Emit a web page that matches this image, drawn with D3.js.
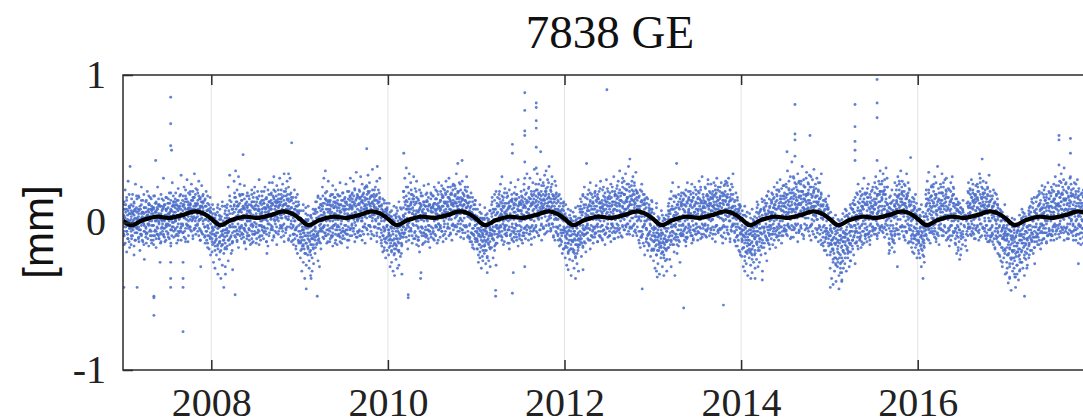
<!DOCTYPE html>
<html>
<head>
<meta charset="utf-8">
<script src="https://cdn.jsdelivr.net/npm/d3@7"></script>
<style>
  html, body { margin: 0; padding: 0; background: #fff; overflow: hidden; }
  svg { display: block; }
</style>
</head>
<body>
<svg id="chart" width="1083" height="420"></svg>
<script>
// ---- chart text and ticks ----
const chartTitle = "7838 GE";
const yLabel = "[mm]";
const xTickYears = [2008, 2010, 2012, 2014, 2016];
const yTickValues = [-1, 0, 1];
const xDomain = [2007, 2018];
const yDomain = [-1, 1];

// ---- residual series, hundredths of a mm ----
// One string per month from Jan 2007; "/" separates observation epochs in the month,
// spaces separate the solutions within an epoch.
const seriesStartYear = 2007;
const monthlyResiduals = [
  // 2007
  "5 -8 12 -3/22 -14 3 9/-6 15 -20 1/8 -2 28 -11/-4 10 -17 6",
  "12 -6 2 -15/7 19 -9 0/-3 14 -22 5/26 -1 8 -12/3 -7 16 -4",
  "9 -11 4 18/-5 1 -19 11/6 -8 24 -2/-13 7 0 15/-25 10 -6 3",
  "14 -3 7 -10/2 21 -7 5/-16 9 -1 12/4 -9 17 -5/11 -14 1 8",
  "6 -12 10 -2/18 -6 3 -9/1 13 -17 7/-4 9 24 -8/12 -1 -11 5",
  "-7 11 3 -14/8 16 -3 1/10 -9 30 -4/5 -13 12 2/-1 17 -6 9",
  "4 -8 13 -2/20 -11 6 1/-5 15 9 -16/11 -3 27 0/7 -10 14 -6",
  "10 -5 2 16/-8 12 -14 4/23 -1 8 -9/3 18 -6 11/-12 6 32 -3",
  "15 -7 5 -1/12 24 -10 3/-4 9 18 -13/6 -2 14 29/1 -9 10 20",
  "8 19 -3 12/-6 26 4 15/2 -11 21 7/17 -4 9 33/11 -8 23 3",
  "13 -2 22 6/-9 18 1 28/10 -5 16 -12/25 3 -7 11/19 -1 8 14",
  "6 -10 15 -3/11 21 -6 2/-14 8 18 -2/4 -9 12 -18/-1 7 -22 10",
  // 2008
  "-8 4 -20 -13/2 -27 -5 9/-16 -3 -31 6/-11 -22 1 -7/12 -18 -35 -4",
  "-14 -3 -25 5/-9 -19 -38 2/-6 -29 11 -15/-21 -2 -12 -44/8 -17 -30 -5",
  "-5 10 -18 3/-12 24 -7 -26/6 -15 32 -2/-9 1 -21 14/-3 -32 9 -13",
  "11 -6 28 2/-10 35 -3 17/4 -13 22 -8/31 7 -17 12/-4 18 -9 26",
  "7 -11 15 -3/19 2 -8 11/-14 9 25 -5/3 -2 13 -18/10 -7 20 1",
  "-4 12 -9 18/1 -15 8 3/14 -6 22 -11/5 17 -2 -13/9 -8 11 24",
  "12 -3 6 -14/21 -7 3 16/-10 8 29 -2/4 -12 14 1/18 -5 -9 9",
  "-6 15 2 -11/10 24 -4 7/-13 3 17 -8/22 -1 11 -16/6 14 -7 27",
  "9 -5 19 2/-12 13 27 -3/6 -9 16 31/-1 11 -6 21/14 -15 4 25",
  "16 3 -8 22/-4 12 30 7/19 -10 5 14/-6 26 11 -2/8 21 -13 33",
  "12 -7 21 4/28 -3 16 9/-11 24 33 2/7 -9 19 30/15 -4 10 -13",
  "5 -12 17 -3/9 22 -8 1/-16 6 14 -5/11 -21 3 19/-2 8 -14 12",
  // 2009
  "-10 3 -24 -6/-18 -33 2 -12/-5 -27 -15 8/-38 -9 -21 -3/-14 1 -29 -45",
  "-7 -22 5 -16/-31 -3 -12 -26/-9 4 -36 -19/-2 -24 -11 -33/6 -15 -28 -8",
  "-12 8 -4 -21/3 -15 14 -9/-26 1 -7 18/-13 10 -30 -2/5 -18 12 -6",
  "9 -6 24 1/-11 30 7 -3/16 -9 35 4/-5 21 12 -14/28 2 -8 15",
  "14 -4 8 -13/3 19 -9 11/-7 25 1 -16/10 -2 17 6/-12 13 -5 22",
  "-3 10 -15 5/18 -8 2 12/-10 7 27 -5/4 -14 15 1/11 -6 20 -9",
  "8 -11 3 16/-5 13 26 -2/12 -8 6 -17/21 2 -12 9/-4 17 30 5",
  "11 -2 19 -9/4 28 -6 14/-13 7 23 0/16 -10 5 34/2 -7 18 12",
  "-6 13 4 22/17 -9 31 6/1 15 -12 26/9 -3 20 -8/24 5 12 -14",
  "10 25 -4 16/-8 21 7 32/13 -2 27 4/-11 18 9 -6/22 3 14 36",
  "6 -9 19 11/-3 24 2 15/28 -7 9 -13/14 4 22 -1/-10 17 7 30",
  "3 -14 11 -5/16 -9 7 -20/1 13 -4 -17/9 -24 5 -11/-2 10 -19 6",
  // 2010
  "-9 2 -22 -5/-16 7 -30 -11/4 -19 -3 -27/-12 -33 1 -8/-21 5 -14 -36",
  "-6 -18 3 -25/-11 8 -31 -4/-20 -1 -14 -29/2 -9 -23 10/-15 -35 -7 0",
  "5 -10 21 -3/14 30 -7 2/-13 9 37 -4/24 -1 11 -18/7 33 -9 16",
  "12 -5 27 3/-9 19 6 -14/31 -2 14 8/-11 23 4 -6/17 -15 28 1",
  "4 -12 16 -3/9 -20 13 22/-7 2 -34 11/18 -4 7 -15/-9 14 1 25",
  "-5 11 -13 6/15 2 -9 20/-2 8 26 -11/12 -6 3 -17/7 19 -3 10",
  "10 -7 4 18/-12 13 1 24/6 -9 16 -3/21 2 -14 9/-5 27 11 -1",
  "-3 14 8 -10/19 -6 25 3/11 -13 6 17/-1 22 -8 13/28 4 -11 7",
  "12 -4 21 6/-9 17 30 2/15 -7 9 24/-2 13 -12 19/8 26 -5 11",
  "7 18 -3 25/13 -8 33 4/20 -1 11 40/-6 16 6 27/2 22 -10 14",
  "16 -5 9 28/-2 19 12 -11/24 6 -7 15/31 -3 10 21/-9 13 4 18",
  "8 -11 14 -2/4 20 -7 11/-15 6 17 -4/12 -9 2 -18/-6 9 -13 15",
  // 2011
  "-6 4 -18 -11/-22 1 -9 -27/3 -15 -5 -24/-12 -31 6 -3/-19 -8 -26 2",
  "-10 -21 3 -16/-4 -28 -13 5/-23 -7 -34 -1/-15 2 -26 -9/-30 -18 -5 8",
  "-8 6 -17 12/-3 -24 9 -11/15 -6 -19 2/-14 21 -2 -29/7 -10 17 -4",
  "11 -4 19 -9/5 26 -2 14/-12 8 31 -6/17 1 -15 10/-3 23 6 -8",
  "6 -9 13 2/-14 18 -5 9/22 -3 11 -18/4 15 -8 27/-1 9 -12 16",
  "-7 12 3 -13/16 -4 24 7/-10 5 19 -2/11 -16 8 29/1 -6 14 -11",
  "13 -5 8 21/-9 17 2 -14/26 5 -7 12/-3 19 10 -11/7 33 -2 15",
  "9 -12 23 4/-4 16 30 -8/12 2 -15 19/27 -6 8 14/-10 21 5 36",
  "18 -3 11 26/-7 22 6 33/14 -9 19 2/29 8 -5 16/3 25 -12 11",
  "10 27 -4 19/32 6 15 -8/21 -2 35 9/13 24 -6 29/4 17 38 -1",
  "14 -6 22 5/26 -1 11 31/-9 18 7 -3/16 28 -12 9/2 20 -7 13",
  "6 -9 15 -3/11 -16 4 19/-5 8 -12 13/-21 2 9 -7/14 -3 -18 5",
  // 2012
  "-4 -17 6 -24/-11 2 -29 -7/-20 -1 -14 -32/5 -25 -9 -3/-18 -36 1 -12",
  "-13 -26 -2 -8/-31 4 -19 -6/-24 -12 -38 1/-9 -21 -4 -28/-15 3 -33 -11",
  "-6 9 -15 3/14 -11 -23 7/-2 19 -8 -17/10 -5 24 -13/1 -20 12 -4",
  "8 -7 16 -2/-12 22 4 11/-5 14 -18 27/3 9 -9 19/13 -3 6 -14",
  "11 -4 20 -10/2 15 -7 25/-13 8 17 -1/21 -9 4 13/-6 28 10 -3",
  "-2 13 -11 7/18 -5 9 24/-8 4 15 -15/12 29 -3 6/-10 17 2 21",
  "5 -9 18 11/-4 26 7 -13/14 -1 21 3/-11 9 31 -6/19 2 -7 14",
  "13 -6 4 23/-2 17 28 -10/8 -4 12 35/20 6 -9 15/-3 24 10 30",
  "7 19 -5 28/14 -2 33 9/-8 22 4 16/26 -6 11 38/1 18 -3 12",
  "16 -4 25 8/-9 19 31 3/12 27 -1 14/-7 22 6 34/20 -3 15 9",
  "9 -12 17 2/22 -6 11 -17/4 14 -9 26/-3 19 7 -14/12 -22 1 16",
  "5 -13 10 -4/-9 16 -19 2/12 -7 -15 8/-2 -23 6 -11/9 -4 -18 14",
  // 2013
  "-7 -19 3 -26/-12 -4 -31 -9/1 -22 -15 -33/-5 -28 -10 4/-17 -2 -35 -13",
  "-11 -24 -1 -16/-30 5 -20 -7/-14 -36 -3 -22/-26 -9 2 -18/-33 -13 -6 -25",
  "-4 11 -17 2/16 -9 -25 8/-13 21 -1 -30/9 -6 27 -15/3 14 -20 -2",
  "7 -10 18 -3/-15 12 3 -21/10 -5 24 -12/-8 16 1 -27/13 -2 20 -9",
  "4 -8 15 -1/-12 19 8 -5/22 -3 11 -16/2 13 -10 27/-6 9 17 -2",
  "11 -5 21 3/-9 14 -14 26/5 -2 17 -11/24 7 -6 12/-1 19 -8 9",
  "-3 16 6 -12/20 -7 28 2/9 -4 13 22/-10 6 31 -1/15 -8 11 3",
  "13 -2 24 7/-6 18 4 -10/29 11 -4 16/3 21 -9 13/-5 8 26 1",
  "8 -11 19 2/14 27 -5 10/-8 22 6 -13/17 -2 12 30/4 -7 24 9",
  "11 21 -4 16/-9 6 27 3/18 -3 13 -14/25 8 -7 19/2 15 -11 28",
  "-5 17 9 27/12 -8 30 4/22 1 -13 15/-3 26 10 -6/19 7 33 -2",
  "4 -12 14 -6/9 20 -3 -16/-9 6 15 -1/12 -19 3 8/-7 11 -22 2",
  // 2014
  "-11 2 -23 -6/-17 -30 5 -9/-3 -26 -14 -33/-20 4 -8 -28/-12 -36 -2 -19",
  "-8 -24 -1 -15/-29 -5 -19 3/-13 -34 -9 -22/1 -27 -16 -4/-31 -10 -21 -38",
  "-14 -3 -25 7/-6 -19 12 -30/-1 -11 -27 4/-22 9 -7 -16/3 -33 -12 14",
  "-4 10 -17 3/13 -9 -21 6/-12 18 -3 -26/8 -7 21 -14/1 -18 11 -5",
  "6 -11 15 -2/-8 19 7 -15/12 -4 24 1/-17 9 -6 14/3 -9 18 27",
  "10 -4 22 -12/1 16 -7 29/-3 11 4 -14/18 -9 8 25/-6 13 -2 20",
  "14 -6 5 26/-2 19 35 -9/9 -3 23 7/-11 16 31 2/22 -5 12 41",
  "8 -10 20 31/-4 13 27 3/17 -7 9 24/-1 33 12 -13/28 5 -6 18",
  "12 -3 26 8/-8 21 38 5/16 -11 10 29/3 24 -5 15/34 -2 19 9",
  "19 -4 27 10/-9 15 32 6/24 -2 13 -12/29 8 18 -6/11 36 1 22",
  "7 -10 17 26/14 -5 30 2/-13 22 8 12/-3 27 -8 16/5 19 -15 33",
  "3 -14 11 -7/15 -2 -19 8/-10 5 16 -4/9 -22 -6 12/-16 2 -9 18",
  // 2015
  "-9 -22 3 -31/-15 -6 -38 -12/-27 1 -19 -42/-4 -33 -14 -24/-11 -40 -2 -29",
  "-18 -30 -7 -25/-36 -3 -21 -45/-12 -28 -9 -34/-24 2 -39 -16/-6 -31 -20 -13",
  "-10 -21 4 -28/-16 -5 -33 8/-24 -12 1 -19/-7 -30 -14 6/-20 -3 -26 10",
  "-3 9 -16 4/15 -10 -22 7/-7 12 -2 -28/20 -13 5 -6/-18 14 2 26",
  "6 -12 13 -3/-9 18 8 -17/11 -1 23 -6/-14 4 16 30/2 -8 19 -11",
  "12 -5 20 -13/3 17 -8 26/-2 9 -15 14/21 4 -9 11/-6 24 7 -3",
  "9 -8 16 2/24 -4 12 31/-11 6 19 -1/14 28 -7 8/-3 21 35 4",
  "15 -3 26 8/-7 19 33 4/22 -10 11 29/1 16 -5 37/12 -2 24 7",
  "10 -14 6 -21/18 -6 -2 13/-17 4 22 -9/8 -12 15 -4/27 -8 11 19",
  "13 -4 22 9/-8 17 31 2/19 -11 7 26/-3 14 35 6/21 -6 12 28",
  "8 -9 18 4/25 -3 13 -12/16 33 -7 10/2 20 -14 27/11 -5 22 6",
  "4 -13 12 -5/17 -8 2 -20/9 -3 14 -11/-17 6 -9 19/1 -24 8 -6",
  // 2016
  "-7 3 -19 -12/5 -24 -4 9/-15 -30 1 -9/-22 7 -13 -3/-27 -6 4 -17",
  "6 -8 19 -3/13 28 -11 4/-5 22 9 34/17 -2 -14 11/25 3 -7 15",
  "11 -6 24 2/-10 16 31 -4/8 19 -13 27/3 -7 14 38/20 -2 9 -15",
  "-4 13 26 7/15 -9 20 33/2 11 -6 24/29 -3 16 5/-12 21 8 30",
  "9 -11 17 3/22 -5 12 -16/6 27 -2 14/-9 18 4 31/13 -7 23 1",
  "-6 10 -14 4/16 -9 -21 8/-3 12 -17 1/7 -25 -5 13/-11 3 -18 6",
  "4 -8 -15 9/-2/-12 5/13 -6 -19 2/20 -3 10 27",
  "12 -4 23 6/-9 17 29 1/15 -7 9 22/-2 13 -11 19/8 25 -5 14",
  "17 -3 10 26/-7 21 4 -12/13 30 -1 8/24 -9 16 5/-4 19 11 28",
  "10 -6 20 3/-11 14 27 -2/18 6 -9 23/1 -13 12 32/15 -4 8 -10",
  "5 -9 16 -3/11 -15 7 22/-6 2 -18 13/8 -11 19 -1/-21 4 -7 10",
  "-3 -14 6 -22/8 -9 -26 1/-17 -5 -30 4/-11 -2 -24 -8/3 -19 -35 -6",
  // 2017
  "-12 -27 -4 -34/-8 -22 -41 -15/-30 -1 -18 -38/-25 -11 -46 -6/-20 -33 -9 -28",
  "-16 -31 -5 -24/-37 -10 -21 -44/-7 -29 -14 -35/-23 -3 -39 -18/-12 -27 -8 -32",
  "-9 -20 2 -27/-14 -4 -31 7/-22 -11 -36 -1/-6 -25 -15 4/-18 -29 -3 -12",
  "-5 8 -16 -24/11 -9 -2 -19/4 -13 16 -7/-21 1 -10 13/-3 -17 7 -28",
  "6 -10 14 -3/-8 18 -15 3/12 -5 21 -12/-1 9 -18 15/4 -7 25 -2",
  "10 -4 19 -11/2 15 -7 24/-14 8 -1 17/13 -9 27 3/-5 11 20 -8",
  "7 -12 18 1/-5 22 10 -9/15 -2 26 5/-8 13 31 -3/19 4 -11 12",
  "12 -4 21 6/-10 17 28 -1/9 -7 14 33/3 19 -5 24/-12 8 16 37",
  "15 -6 9 26/-3 20 12 -11/24 4 -8 17/30 -1 13 7/-7 22 2 18",
  "9 -9 19 -2/14 27 -5 6/-12 11 21 1/17 -4 8 29/-8 13 23 -1",
  "6 -11 15 -3/20 -7 11 2/-14 9 -4 18/25 -8 5 13/-2 16 -10 9",
  "3 -12 10 -5/14 -8 -17 6/-3 9 -13 1/-20 5 -9 12/-6 -15 2 8"
];

// Second solution set for the same months (same encoding), mostly close to zero.
const monthlyResidualsB = [
  // 2007
  "3 -6 9 -1/7 -3 12 0/-8 5 2 -11/10 -4 6 1",
  "-2 8 -9 4/11 -5 1 6/-7 3 -12 9/2 -1 7 -4",
  "6 -3 -10 2/-5 9 1 -8/4 -12 7 0/10 -6 3 -2",
  "-4 10 2 -7/8 -1 5 -11/3 12 -6 1/-9 6 -2 9",
  "9 -2 4 -9/1 7 -5 13/-3 10 -8 2/6 -11 11 0",
  "2 -8 11 5/-6 3 9 -1/12 -4 1 -10/5 8 -3 4",
  "-1 6 -7 10/4 13 -2 7/-9 2 8 -5/11 0 5 14",
  "7 1 12 -4/-3 9 5 15/2 -7 10 3/13 -1 6 -6",
  "5 11 -2 8/14 3 -6 10/-1 7 16 2/9 -4 12 4",
  "10 2 13 -3/6 15 1 9/-5 11 4 17/3 8 -2 12",
  "4 12 -1 7/16 -4 9 2/11 5 14 -6/1 10 6 13",
  "-3 6 -9 2/8 -6 4 -12/1 9 -4 5/-10 3 -7 7",
  // 2008
  "-6 1 -11 -3/3 -8 -14 2/-9 -2 5 -12/-4 -15 0 -7",
  "-10 -3 2 -13/-6 -16 -1 4/-12 -5 -9 1/-2 -14 -7 3",
  "-4 5 -9 1/-12 3 -6 8/2 -10 -3 11/-7 6 -1 -13",
  "7 -3 12 1/-6 9 4 14/-1 11 -8 5/13 2 -4 8",
  "2 -7 9 -2/10 -4 5 -10/-1 12 3 -6/8 -9 1 11",
  "-5 8 1 -9/12 -2 6 3/-8 10 -3 14/4 -6 9 0",
  "9 -1 4 -7/3 11 -5 8/-2 13 6 -9/1 7 15 -3",
  "4 10 -3 13/-6 2 9 16/7 -4 12 1/14 5 -1 10",
  "11 3 15 -2/6 12 -5 18/1 9 4 14/-3 13 8 2",
  "7 14 1 10/-2 16 5 12/9 -4 17 3/12 6 15 -1",
  "3 13 8 -4/15 2 11 19/6 -3 14 9/10 17 1 5",
  "-2 7 -8 3/9 -5 1 -11/5 -9 8 -3/-6 2 -13 6",
  // 2009
  "-8 -1 -13 3/-5 -16 -3 -10/1 -12 -7 -18/-4 2 -14 -9",
  "-11 -4 -17 1/-7 -13 -2 -20/-15 -6 3 -11/-9 -18 -1 -5",
  "-3 6 -10 0/-8 3 -14 7/4 -6 10 -11/-1 8 -5 2",
  "5 -4 11 2/-7 13 6 -2/9 1 -9 15/3 12 -5 7",
  "1 9 -6 12/-3 7 4 -10/10 -2 14 3/-8 6 11 -1",
  "8 -5 2 13/-9 10 5 -3/12 -1 7 -7/3 15 -4 9",
  "-2 11 6 -6/14 2 -8 9/5 16 -3 1/10 -5 12 4",
  "6 14 -1 9/-4 12 18 2/11 -2 7 15/1 9 4 -6",
  "12 3 -5 17/8 14 1 10/-3 19 6 13/15 -1 9 4",
  "9 16 3 12/-2 14 20 6/11 4 17 -3/7 13 1 18",
  "5 12 -3 15/10 1 18 7/-4 9 13 3/16 6 -1 11",
  "1 -7 6 -12/-3 8 -9 4/7 -13 2 -5/-10 5 -2 9",
  // 2010
  "-5 2 -12 -7/-14 -3 4 -9/-1 -16 -6 2/-11 -4 -18 1",
  "-9 -2 -15 4/-6 -13 1 -19/3 -8 -11 -3/-16 -5 2 -10",
  "4 -3 10 -7/12 1 6 -5/-2 14 3 9/7 -6 11 0",
  "9 2 -4 13/-1 10 6 16/5 -7 12 3/14 -2 8 1",
  "-4 7 1 -10/10 -6 5 13/2 -9 8 -3/12 4 -7 6",
  "6 -3 11 -8/1 9 -5 14/-6 4 12 -2/8 -10 3 10",
  "3 11 -4 7/-8 13 2 9/12 -3 6 16/-1 10 5 -5",
  "10 -2 15 4/6 17 -6 11/1 8 14 -3/13 3 9 19",
  "7 14 -1 11/16 4 9 -4/12 20 2 8/-2 15 6 13",
  "13 3 18 8/-3 11 16 5/9 21 1 14/6 -1 12 17",
  "8 15 1 -5/12 6 18 3/-2 10 14 7/17 4 -6 11",
  "-1 6 -10 3/7 -7 2 -13/4 -4 9 -8/-11 5 -2 1",
  // 2011
  "-7 -1 -12 4/-4 -15 -8 1/-10 3 -6 -17/-2 -13 -5 -9",
  "-12 -5 2 -16/-8 -19 -3 -6/1 -11 -14 -2/-17 -7 -4 -13",
  "-5 4 -9 -1/7 -12 2 -6/-3 9 -15 5/-8 1 11 -4",
  "4 -6 12 1/-3 9 6 -9/11 -1 15 3/-5 7 -2 13",
  "-2 8 3 -7/10 -5 13 1/-9 6 2 11/4 -3 14 -6",
  "7 -4 10 2/-8 12 -1 15/3 9 -6 5/13 -2 8 -9",
  "1 12 -3 8/14 -7 5 10/-4 11 2 16/7 -5 13 3",
  "9 -3 14 5/2 16 -6 11/12 4 -2 18/6 13 1 -4",
  "14 5 -2 11/8 17 3 12/-5 10 19 6/13 -1 9 15",
  "6 15 10 -3/18 4 13 21/1 11 16 7/-2 14 9 19",
  "10 3 16 -4/13 8 -1 19/5 14 2 11/17 -3 9 6",
  "2 -8 9 -4/-11 5 -2 7/3 -9 6 -13/8 -5 1 -7",
  // 2012
  "-6 -14 1 -9/-3 -17 -8 3/-12 -5 -19 -1/-9 2 -15 -6",
  "-13 -4 -18 1/-8 -21 -6 -11/2 -15 -9 -3/-17 -7 -12 0",
  "-2 7 -11 3/-7 5 -14 9/1 -5 12 -9/6 -3 -8 4",
  "5 -7 10 -1/12 3 -4 8/-9 11 6 -2/14 -5 2 9",
  "-3 9 4 -8/7 14 -2 11/2 -6 16 5/-10 8 1 13",
  "10 -2 6 15/-5 12 1 8/14 -7 9 3/-1 16 11 -4",
  "4 13 -6 9/11 2 17 -1/-3 8 14 6/12 -4 19 2",
  "8 -1 16 11/3 20 -5 13/15 7 1 18/-2 11 6 14",
  "13 6 19 2/-3 15 9 22/10 -1 17 5/14 8 -4 12",
  "7 18 3 12/15 -2 21 8/4 13 -5 16/11 20 1 9",
  "3 11 -6 9/14 1 -10 6/-3 12 7 -8/9 -1 15 4",
  "-4 5 -11 1/6 -8 3 -14/-1 9 -6 2/-12 4 -9 7",
  // 2013
  "-5 -13 2 -9/-16 -4 -10 1/-7 -19 -2 -12/-3 -14 -8 3",
  "-9 -2 -17 -5/-13 1 -20 -8/-4 -15 -11 2/-18 -6 -1 -12",
  "-1 8 -12 4/6 -7 -15 2/-9 11 -3 -6/5 -11 9 -2",
  "3 -8 10 -1/-5 12 6 -10/9 -2 -13 4/11 3 -7 14",
  "-2 9 5 -9/12 -4 7 1/-7 14 3 -11/8 -1 16 6",
  "6 -3 12 -7/1 10 -9 15/7 -5 3 11/-1 13 5 -4",
  "9 4 -6 13/-3 11 16 2/8 -8 14 5/17 -2 10 7",
  "5 14 -1 10/12 3 19 -5/2 9 15 11/-4 17 6 13",
  "11 2 16 -3/7 18 5 12/-2 14 9 20/4 11 -5 15",
  "8 17 3 13/-4 10 20 6/15 1 12 -2/9 18 5 14",
  "12 4 -3 17/6 14 1 10/-5 19 8 15/3 11 -1 7",
  "-1 8 -7 3/5 -10 2 -5/9 -3 -12 4/-8 1 6 -4",
  // 2014
  "-8 -2 -13 3/-5 -17 -9 1/-12 -4 -20 -7/0 -14 -6 -10",
  "-12 -5 -18 -1/-7 -21 -3 -14/-9 2 -16 -6/-19 -11 -2 -8",
  "-6 3 -13 -2/-9 6 -17 1/-4 -11 8 -7/2 -14 -3 5",
  "2 -7 9 -3/-10 5 -1 11/6 -5 -12 3/10 -2 7 -8",
  "7 -4 13 2/-6 10 -1 16/3 12 -8 6/-3 9 15 -5",
  "-1 11 4 -9/14 -3 9 18/5 -6 13 1/11 -4 7 16",
  "10 3 -5 17/6 15 -1 12/-4 11 20 4/14 7 -2 9",
  "4 16 9 -3/12 -1 19 7/15 3 10 22/-5 13 6 17",
  "13 7 -2 18/10 21 4 14/-1 16 9 24/6 12 -4 19",
  "9 20 3 15/-3 13 24 7/17 2 11 -1/14 21 5 10",
  "5 14 -4 11/18 2 -7 13/9 -2 16 6/-5 12 3 20",
  "-3 7 -10 2/9 -6 4 -13/1 -8 11 -4/-11 3 6 -7",
  // 2015
  "-9 -2 -15 -5/-18 -7 1 -12/-4 -21 -10 -1/-14 -6 -24 -3",
  "-13 -5 -20 -2/-9 -24 -14 1/-17 -4 -11 -27/-7 -19 -1 -10",
  "-7 -15 0 -10/-3 -18 5 -8/-12 -1 -20 3/-6 -14 -2 -9",
  "3 -6 9 -12/-2 7 -9 12/5 -14 1 -4/10 -7 4 -1",
  "-4 8 -10 3/11 -2 6 -13/1 14 -6 9/-9 4 12 -1",
  "8 -3 14 5/-7 10 2 -10/13 -1 7 17/2 -5 11 6",
  "4 12 -4 9/16 1 -8 13/7 19 -2 10/-5 14 3 21",
  "11 -2 17 6/3 21 9 -4/14 5 -1 19/8 24 2 12",
  "-4 7 -11 3/9 -8 13 1/-13 5 -2 8/-6 11 -9 4",
  "9 -1 15 4/-5 12 18 7/2 16 -3 11/19 6 -2 14",
  "6 13 -3 9/16 1 11 -6/4 18 7 -1/12 -4 15 3",
  "-2 5 -9 1/8 -6 -14 3/-4 10 -11 6/-8 2 -1 -12",
  // 2016
  "-6 -13 2 -8/-3 -16 -10 4/-11 -1 -7 -19/-4 -14 1 -9",
  "4 -5 11 -1/8 16 -3 2/-7 13 6 -2/10 -4 18 5",
  "7 -2 14 3/-6 11 19 -1/5 -8 12 8/16 1 -4 10",
  "-1 9 15 4/12 -5 7 20/3 13 -2 9/17 5 -7 11",
  "5 -6 10 2/14 -3 8 -9/1 16 4 -2/11 -7 19 6",
  "-4 6 -11 2/9 -7 -2 12/-5 4 -13 7/3 -9 -1 10",
  "2 -6 8/-3 5/-8 1/6 -4 11 -1",
  "7 -3 13 4/-6 10 17 -1/11 2 -8 15/4 19 -4 8",
  "10 -2 6 16/-5 13 2 9/17 -1 11 5/-4 14 8 20",
  "6 -4 12 1/-7 9 16 -2/11 3 -5 14/1 -9 8 18",
  "3 -7 10 -2/6 -11 4 13/-4 1 -9 8/12 -6 2 -13",
  "-2 -9 4 -14/5 -6 -17 1/-10 -3 -19 2/-7 1 -12 -4",
  // 2017
  "-8 -17 -2 -11/-5 -21 -13 -1/-15 -6 -24 -9/-3 -19 -10 -14",
  "-11 -3 -19 -7/-16 -1 -23 -9/-5 -14 -20 -2/-12 -18 -6 -25",
  "-5 -12 3 -8/-10 -2 -17 4/-14 -6 1 -20/-3 -11 -7 2",
  "-2 6 -10 -14/7 -5 3 -11/1 -8 10 -3/-13 4 -6 8",
  "4 -7 9 -1/-5 11 -10 2/8 -3 13 -7/-1 6 -12 10",
  "6 -2 12 -7/1 10 -4 15/-9 5 1 11/8 -6 16 3",
  "5 -8 11 2/-3 14 7 -6/10 -1 16 4/-5 9 19 -2",
  "8 -2 13 4/-6 11 17 1/6 -4 9 20/2 12 -3 15",
  "9 -4 6 16/-1 13 8 -7/15 3 -5 11/18 1 9 5",
  "6 -6 12 -1/9 17 -3 4/-8 7 13 2/11 -2 5 18",
  "4 -7 10 -2/13 -4 7 1/-9 6 -3 12/16 -5 3 8",
  "2 -8 7 -3/9 -5 -11 4/-2 6 -9 1/-13 3 -6 8"
];

// Third solution set for the same months (same encoding), wider spread.
const monthlyResidualsC = [
  // 2007
  "14 -9 4 -15/-2 17 9 -6/11 -13 1 19",
  "-11 6 16 -4/8 -16 13 2/-7 18 -3 10",
  "17 -5 -13 8/3 12 -9 15/-15 6 19 -1",
  "-8 15 4 -14/13 -2 18 7/-12 9 -6 16",
  "10 -15 18 3/-6 14 -11 8/16 1 -9 12",
  "-13 19 6 -4/11 -8 15 2/-2 17 -12 9",
  "16 2 -10 13/-5 20 8 -14/12 -3 18 5",
  "-9 14 20 1/15 -6 11 -12/4 19 -4 9",
  "18 -7 12 4/-11 16 22 6/9 -2 14 -13",
  "12 21 -5 8/17 3 -9 15/-4 13 19 1",
  "-6 15 9 20/2 -12 17 11/14 6 -8 18",
  "11 -14 5 16/-9 13 -3 -17/8 -11 17 2",
  // 2008
  "-15 6 -4 12/-19 -9 3 -13/7 -16 -1 10",
  "4 -13 -20 9/-8 14 -15 -2/-18 6 -10 11",
  "12 -16 5 -7/-11 15 -3 18/9 -14 1 -19",
  "-9 17 3 20/14 -5 11 -12/-3 19 8 -6",
  "15 -8 19 2/-13 10 16 -4/6 -11 14 18",
  "-12 16 7 -5/19 -1 -14 11/3 14 -8 20",
  "17 4 -11 14/-6 18 9 -15/12 -2 21 6",
  "-7 13 21 -3/10 -13 16 5/19 -9 8 14",
  "20 -4 13 9/-10 17 2 22/11 15 -7 18",
  "14 19 -6 11/22 3 -3 16/-9 18 12 6",
  "9 -5 18 23/16 -12 11 4/20 7 -1 15",
  "13 -15 6 -8/-4 11 17 -18/2 -12 14 7",
  // 2009
  "-14 8 -19 3/-7 12 -16 -5/10 -21 -2 6",
  "-18 2 -9 11/5 -15 -22 -3/-11 9 -17 1",
  "9 -17 14 -6/-12 17 3 -9/16 -4 -14 12",
  "-10 18 -3 13/16 -7 20 4/-2 14 9 -13",
  "18 -11 6 15/-4 19 -9 12/14 2 -14 17",
  "-9 15 19 -2/12 -13 8 18/-6 20 4 -11",
  "14 -7 17 9/-12 21 3 -5/18 11 -9 15",
  "-4 20 10 16/22 -8 13 5/-10 17 19 2",
  "16 8 -9 21/3 18 -6 14/23 -3 11 17",
  "19 -5 24 7/12 21 -2 16/5 -8 18 13",
  "-3 17 10 22/15 -9 19 6/11 20 -4 14",
  "12 -16 4 9/-11 15 -6 -19/8 -3 13 -14",
  // 2010
  "-17 5 -8 13/-12 -20 8 -4/11 -15 -1 -22",
  "6 -16 10 -11/-19 4 -7 14/-14 9 -21 -2",
  "-8 17 21 4/15 -10 18 24/-3 20 9 -12",
  "19 -6 14 22/-11 16 3 18/13 -9 21 6",
  "-12 15 8 -16/18 -3 12 20/-7 14 -14 9",
  "14 -10 19 3/-5 17 -13 11/20 4 -8 16",
  "-6 18 12 -11/16 22 -2 8/13 -12 19 5",
  "21 -4 15 9/-9 18 23 3/14 7 -6 20",
  "11 24 -3 17/19 5 -8 14/22 -1 12 25",
  "-2 19 14 23/17 -6 21 9/12 26 3 -4",
  "20 -7 16 11/-3 22 8 15/18 -10 13 24",
  "10 -13 7 17/-8 14 -17 5/15 -2 -11 12",
  // 2011
  "-13 9 -18 -4/7 -20 -9 12/-16 3 -7 -23",
  "-19 -6 10 -15/3 -12 -24 6/-9 -17 8 -3",
  "14 -11 -5 17/-16 9 19 -8/6 -14 13 -2",
  "-7 16 21 -3/13 -10 18 5/20 -4 11 -13",
  "17 -9 5 20/-14 14 10 -5/19 3 -11 15",
  "-10 20 13 -6/16 -2 -12 19/8 17 -8 12",
  "18 6 -12 15/-4 22 11 -9/14 -7 20 3",
  "-8 17 24 6/21 -3 13 -11/16 9 -5 19",
  "22 -6 15 10/-9 20 26 4/13 18 -2 21",
  "16 25 -4 12/23 8 19 -7/11 27 2 17",
  "-5 21 14 24/18 -10 16 7/25 3 -6 19",
  "14 -12 8 18/-7 16 -15 3/11 -5 -18 13",
  // 2012
  "-16 4 -10 12/-21 -6 9 -14/3 -18 -3 8",
  "7 -20 -12 -2/-15 10 -23 4/-8 -16 11 -19",
  "11 -13 16 -9/-4 18 -16 7/17 -8 3 -14",
  "-11 19 8 -4/15 -12 20 2/-6 17 13 -10",
  "18 -7 21 5/-13 16 -3 19/10 -9 14 23",
  "-6 22 11 -12/17 4 -8 20/14 -4 23 7",
  "20 -9 16 3/-2 24 12 -7/18 -11 21 9",
  "-4 18 25 8/22 -7 15 11/-10 20 27 3",
  "23 9 -5 19/14 26 -1 17/8 21 -8 24",
  "15 -3 22 28/-6 19 10 25/21 4 -9 17",
  "9 -14 18 4/-10 15 21 -6/13 -2 19 -16",
  "-11 13 -5 17/6 -16 10 -8/15 -19 3 9",
  // 2013
  "-18 6 -13 -3/10 -22 -7 13/-15 2 -19 -9",
  "-7 -21 8 -14/-17 3 -11 -24/5 -13 -4 -19",
  "13 -10 -17 6/-3 16 -12 9/18 -15 4 -7",
  "-12 17 5 -8/14 -16 19 1/-5 12 -9 18",
  "16 -6 12 20/-10 18 3 -13/7 21 -4 15",
  "-9 19 6 15/20 -5 -12 17/4 14 -8 22",
  "17 8 -7 21/-11 15 24 2/19 -4 13 10",
  "-5 23 14 -9/18 6 26 -2/12 -7 20 16",
  "21 -8 17 11/-3 25 9 19/15 -6 22 4",
  "13 24 -5 18/20 2 -10 15/26 8 -3 21",
  "-7 19 12 25/17 -11 22 5/10 24 -2 16",
  "15 -13 4 11/-9 17 -16 7/12 -4 -20 10",
  // 2014
  "-12 8 -18 -5/5 -23 -10 11/-16 -2 -21 7",
  "-20 -8 6 -15/-3 -18 -25 9/-11 -22 -6 4",
  "10 -15 -9 14/-19 7 -4 -13/16 -8 -17 3",
  "-6 15 -14 8/18 -11 3 13/-9 16 -3 -15",
  "14 -8 20 5/-12 17 10 -4/19 2 -10 22",
  "-7 21 13 -2/16 -9 23 8/11 -5 18 25",
  "19 7 -8 24/-3 22 14 28/17 -10 20 9",
  "23 -5 18 30/10 26 -2 15/21 12 -7 27",
  "16 28 -4 21/25 8 19 -9/14 30 3 18",
  "22 -6 26 13/-2 19 31 10/24 5 -8 20",
  "-10 18 23 4/21 -4 14 27/8 -12 17 11",
  "12 -16 7 15/-6 14 -11 -19/9 4 -14 10",
  // 2015
  "-20 -4 -14 7/-25 -11 3 -18/-8 -28 -15 5",
  "-16 -27 2 -12/-22 -9 -31 -5/6 -19 -26 -13",
  "-13 -24 9 -8/-17 4 -21 -11/12 -15 -6 -26",
  "13 -12 -18 9/-6 17 -14 4/19 -10 8 -16",
  "-11 16 21 -7/14 -15 10 19/-4 20 -9 13",
  "17 -8 23 12/-12 19 5 -6/22 -3 15 10",
  "-5 20 27 14/18 -9 23 6/26 11 -4 19",
  "21 -6 16 28/9 24 -3 19/13 30 6 -8",
  "-15 10 -19 17/6 -11 14 -6/-20 12 3 -14",
  "18 25 -5 14/22 -8 28 10/-3 20 16 24",
  "12 -10 21 26/-6 17 8 19/23 -2 14 -13",
  "-11 14 -17 8/16 -9 -21 11/5 -15 13 -4",
  // 2016
  "-14 9 -21 2/-9 -18 12 -6/-23 4 -12 -16",
  "16 22 -9 12/-4 20 15 -12/24 8 -6 18",
  "-8 21 13 26/17 -11 19 6/23 2 -9 15",
  "20 -5 24 11/-9 18 27 4/14 22 -7 19",
  "-10 17 23 -4/15 21 -12 9/19 -6 13 24",
  "12 -15 -4 16/-19 8 14 -10/-7 -22 10 3",
  "-10 7 15/-16/14 -9 21 -4",
  "19 -8 22 10/-4 20 14 26/16 -11 18 3",
  "-6 21 15 24/19 -10 27 8/12 23 -3 17",
  "17 -9 22 8/-13 19 11 24/21 -5 14 -12",
  "-13 11 18 -8/14 -17 6 20/-10 12 -4 16",
  "9 -15 -23 5/-11 -4 -27 7/-18 -9 12 -21",
  // 2017
  "-22 -9 -31 4/-17 -28 -5 -37/-12 -24 3 -19",
  "-26 -13 -35 2/-20 -6 -29 -16/-33 -9 -22 5",
  "-14 -27 9 -19/-24 -8 -16 6/-11 -31 -3 -21",
  "10 -15 -22 5/-12 14 -19 -7/17 -10 4 -17",
  "-13 17 6 -9/19 -15 12 -4/-6 20 9 -14",
  "17 -11 22 7/-7 19 13 -13/21 -4 16 10",
  "-9 20 14 24/16 -12 21 7/11 25 -6 18",
  "20 -8 25 11/14 27 -3 19/-7 22 16 29",
  "-4 21 16 27/23 -11 18 9/14 26 -6 20",
  "18 -12 23 8/-5 19 26 -9/21 4 -14 16",
  "13 -15 19 7/-10 17 -4 22/9 -13 15 -6",
  "-9 14 -16 5/12 -18 8 -6/-14 11 -21 3"
];

// Isolated large residuals: [decimal year, mm]
const outliers = [
  [2007.01, -0.44], [2007.08, 0.38], [2007.16, -0.44], [2007.35, -0.50], [2007.35, -0.51],
  [2007.35, -0.63], [2007.37, 0.42], [2007.42, -0.27], [2007.54, 0.85], [2007.54, 0.67],
  [2007.54, 0.52], [2007.55, 0.49], [2007.54, -0.27], [2007.54, -0.38], [2007.54, -0.44],
  [2007.68, -0.27], [2007.68, -0.38], [2007.68, -0.44], [2007.68, -0.74], [2007.88, -0.30],
  [2008.16, -0.35], [2008.27, -0.49], [2008.36, 0.46], [2008.63, -0.21], [2008.91, 0.54],
  [2009.13, -0.38], [2009.20, -0.50], [2009.76, 0.50], [2009.88, 0.38],
  [2010.18, 0.47], [2010.23, -0.49], [2010.23, -0.51], [2010.37, -0.38], [2010.84, 0.42],
  [2011.22, -0.46], [2011.22, -0.50], [2011.41, -0.48], [2011.41, 0.53], [2011.41, 0.47],
  [2011.42, -0.34], [2011.55, 0.88], [2011.55, 0.76], [2011.55, 0.62], [2011.55, 0.59],
  [2011.55, 0.41], [2011.55, 0.30], [2011.55, -0.30], [2011.68, 0.81], [2011.68, 0.78],
  [2011.68, 0.69], [2011.68, 0.64], [2011.68, 0.51], [2011.68, 0.37], [2011.73, 0.48],
  [2012.21, -0.32], [2012.25, 0.40], [2012.48, 0.90], [2012.74, 0.43], [2012.88, -0.45],
  [2013.05, -0.37], [2013.27, 0.40], [2013.25, -0.36], [2013.35, -0.58], [2013.80, -0.56],
  [2014.11, -0.38], [2014.24, -0.39], [2014.52, 0.48], [2014.61, 0.80], [2014.61, 0.60],
  [2014.61, 0.56], [2014.61, 0.45], [2014.78, 0.59], [2015.01, -0.44], [2015.14, -0.34],
  [2015.14, -0.40], [2015.29, 0.80], [2015.29, 0.65], [2015.29, 0.55], [2015.29, 0.49],
  [2015.29, 0.42], [2015.54, 0.97], [2015.54, 0.81], [2015.54, 0.71], [2015.54, 0.42],
  [2015.77, -0.30], [2015.92, 0.44], [2016.06, -0.38], [2016.73, 0.43], [2016.70, 0.33],
  [2017.10, -0.37], [2017.21, -0.50], [2017.60, 0.59], [2017.60, 0.56], [2017.60, 0.39],
  [2017.73, 0.57], [2017.73, 0.47], [2017.73, 0.31], [2017.82, -0.28]
];

// Fitted annual + semi-annual signal: [decimal year, mm]
const seasonalFit = [
  [2007.00, 0.012], [2007.10, -0.018], [2007.22, 0.015], [2007.38, 0.040], [2007.52, 0.031], [2007.66, 0.048], [2007.82, 0.075], [2007.93, 0.055],
  [2008.00, 0.025], [2008.10, -0.018], [2008.22, 0.015], [2008.38, 0.040], [2008.52, 0.031], [2008.66, 0.048], [2008.82, 0.075], [2008.93, 0.055],
  [2009.00, 0.025], [2009.10, -0.018], [2009.22, 0.015], [2009.38, 0.040], [2009.52, 0.031], [2009.66, 0.048], [2009.82, 0.075], [2009.93, 0.055],
  [2010.00, 0.025], [2010.10, -0.018], [2010.22, 0.015], [2010.38, 0.040], [2010.52, 0.031], [2010.66, 0.048], [2010.82, 0.075], [2010.93, 0.055],
  [2011.00, 0.025], [2011.10, -0.018], [2011.22, 0.015], [2011.38, 0.040], [2011.52, 0.031], [2011.66, 0.048], [2011.82, 0.075], [2011.93, 0.055],
  [2012.00, 0.025], [2012.10, -0.018], [2012.22, 0.015], [2012.38, 0.040], [2012.52, 0.031], [2012.66, 0.048], [2012.82, 0.075], [2012.93, 0.055],
  [2013.00, 0.025], [2013.10, -0.018], [2013.22, 0.015], [2013.38, 0.040], [2013.52, 0.031], [2013.66, 0.048], [2013.82, 0.075], [2013.93, 0.055],
  [2014.00, 0.025], [2014.10, -0.018], [2014.22, 0.015], [2014.38, 0.040], [2014.52, 0.031], [2014.66, 0.048], [2014.82, 0.075], [2014.93, 0.055],
  [2015.00, 0.025], [2015.10, -0.018], [2015.22, 0.015], [2015.38, 0.040], [2015.52, 0.031], [2015.66, 0.048], [2015.82, 0.075], [2015.93, 0.055],
  [2016.00, 0.025], [2016.10, -0.018], [2016.22, 0.015], [2016.38, 0.040], [2016.52, 0.031], [2016.66, 0.048], [2016.82, 0.075], [2016.93, 0.055],
  [2017.00, 0.025], [2017.10, -0.018], [2017.22, 0.015], [2017.38, 0.040], [2017.52, 0.031], [2017.66, 0.048], [2017.82, 0.075], [2017.93, 0.055],
  [2018.00, 0.025]
];

// ---- expand the monthly strings into points ----
const residualPoints = [];
function addMonthly(list) {
  list.forEach((month, i) => {
    const t0 = seriesStartYear + i / 12;
    const epochs = month.split("/");
    epochs.forEach((epoch, j) => {
      const t = t0 + (j + 0.5) / epochs.length / 12;
      epoch.trim().split(/\s+/).forEach(v => residualPoints.push([t, +v / 100]));
    });
  });
}
addMonthly(monthlyResiduals);
addMonthly(monthlyResidualsB);
addMonthly(monthlyResidualsC);
outliers.forEach(p => residualPoints.push(p));

// ---- layout ----
const plot = { left: 123, top: 75, bottom: 370 };
const pxPerYear = 88.3;

const x = d3.scaleLinear().domain(xDomain)
  .range([plot.left, plot.left + pxPerYear * (xDomain[1] - xDomain[0])]);
const y = d3.scaleLinear().domain(yDomain).range([plot.bottom, plot.top]);
const plotRight = x(xDomain[1]);

const svg = d3.select("#chart");
const serif = "'Liberation Serif', 'Times New Roman', serif";

svg.append("defs").append("clipPath").attr("id", "plotClip")
  .append("rect")
  .attr("x", plot.left).attr("y", plot.top)
  .attr("width", plotRight - plot.left).attr("height", plot.bottom - plot.top);

// vertical grid lines
svg.append("g").selectAll("line").data(xTickYears).join("line")
  .attr("x1", d => x(d)).attr("x2", d => x(d))
  .attr("y1", plot.top).attr("y2", plot.bottom)
  .attr("stroke", "#e3e3e3").attr("stroke-width", 1);

// residual dots
svg.append("g").attr("clip-path", "url(#plotClip)")
  .selectAll("circle").data(residualPoints).join("circle")
  .attr("cx", d => x(d[0])).attr("cy", d => y(d[1]))
  .attr("r", 1.45)
  .attr("fill", "#4b6ecb")
  .attr("fill-opacity", 0.88);

// fitted seasonal signal
svg.append("path")
  .attr("clip-path", "url(#plotClip)")
  .datum(seasonalFit)
  .attr("fill", "none")
  .attr("stroke", "#000")
  .attr("stroke-width", 4.3)
  .attr("stroke-linejoin", "round")
  .attr("d", d3.line().x(d => x(d[0])).y(d => y(d[1])).curve(d3.curveCatmullRom.alpha(0.5)));

// frame
svg.append("rect")
  .attr("x", plot.left).attr("y", plot.top)
  .attr("width", plotRight - plot.left).attr("height", plot.bottom - plot.top)
  .attr("fill", "none").attr("stroke", "#2b2b2b").attr("stroke-width", 1.5);

// bottom axis: inward ticks, labels below
const xAxis = svg.append("g").attr("transform", `translate(0,${plot.bottom})`)
  .call(d3.axisBottom(x).tickValues(xTickYears).tickFormat(d3.format("d"))
    .tickSizeInner(-10).tickSizeOuter(0).tickPadding(18));
xAxis.select(".domain").remove();
xAxis.selectAll(".tick line").attr("stroke", "#2b2b2b").attr("stroke-width", 1.5);
xAxis.selectAll(".tick text")
  .attr("font-family", serif).attr("font-size", 40).attr("fill", "#222")
  .attr("dy", "0.71em");

// top axis: ticks only
const xTop = svg.append("g").attr("transform", `translate(0,${plot.top})`)
  .call(d3.axisTop(x).tickValues(xTickYears).tickFormat("")
    .tickSizeInner(-10).tickSizeOuter(0));
xTop.select(".domain").remove();
xTop.selectAll(".tick line").attr("stroke", "#2b2b2b").attr("stroke-width", 1.5);

// left axis
const yAxis = svg.append("g").attr("transform", `translate(${plot.left},0)`)
  .call(d3.axisLeft(y).tickValues(yTickValues).tickFormat(d => d)
    .tickSizeInner(-10).tickSizeOuter(0).tickPadding(17));
yAxis.select(".domain").remove();
yAxis.selectAll(".tick line").attr("stroke", "#2b2b2b").attr("stroke-width", 1.5);
yAxis.selectAll(".tick text")
  .attr("font-family", serif).attr("font-size", 40).attr("fill", "#222")
  .attr("dy", "0.30em")
  .text(d => d < 0 ? "-" + Math.abs(d) : d);

// title
svg.append("text")
  .attr("x", 610).attr("y", 48)
  .attr("text-anchor", "middle")
  .attr("font-family", serif).attr("font-size", 47).attr("fill", "#111")
  .text(chartTitle);

// y label
svg.append("text")
  .attr("transform", `translate(53,232) rotate(-90)`)
  .attr("text-anchor", "middle")
  .attr("font-family", "'Liberation Sans', Arial, sans-serif")
  .attr("font-size", 42).attr("fill", "#111")
  .text(yLabel);
</script>
</body>
</html>
